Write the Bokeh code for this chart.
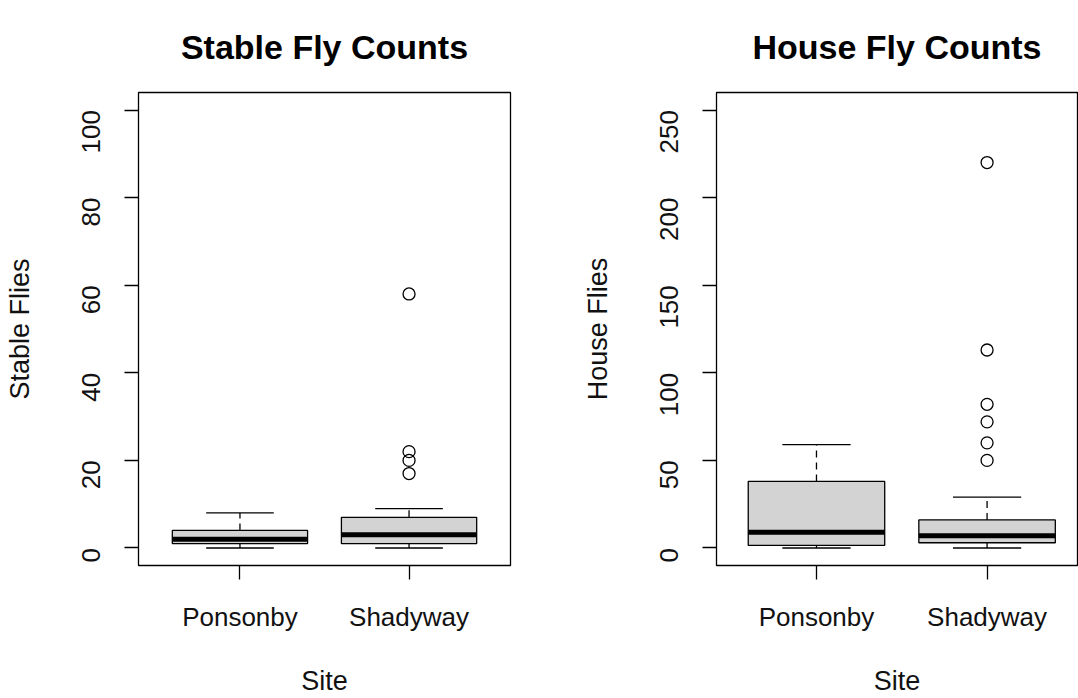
import math
from bokeh.plotting import figure
from bokeh.layouts import row
from bokeh.models import FixedTicker, ColumnDataSource
from bokeh.embed import file_html
from bokeh.resources import INLINE

# Sites sampled
sites = ["Ponsonby", "Shadyway"]

# Stable fly counts: five-number summaries per site
stable_low = [0, 0]
stable_q1 = [1, 1]
stable_median = [2, 3]
stable_q3 = [4, 7]
stable_high = [8, 9]
stable_outlier_site = ["Shadyway", "Shadyway", "Shadyway", "Shadyway"]
stable_outlier_value = [58, 22, 20, 17]
stable_ticks = [0, 20, 40, 60, 80, 100]

# House fly counts: five-number summaries per site
house_low = [0, 0]
house_q1 = [1.5, 3]
house_median = [9, 7]
house_q3 = [38, 16]
house_high = [59, 29]
house_outlier_site = ["Shadyway"] * 6
house_outlier_value = [220, 113, 82, 72, 60, 50]
house_ticks = [0, 50, 100, 150, 200, 250]

FONT = "Liberation Sans"
BOX_HALF = 0.4
CAP_HALF = 0.2


def boxplot(title, ylabel, low, q1, med, q3, high, out_site, out_val, ticks,
            y_range, x_range, width, border_right):
    xs = [sites.index(s) + 1 for s in sites]
    p = figure(width=width, height=698, output_backend="svg",
               toolbar_location=None, x_range=x_range, y_range=y_range,
               min_border_left=138, min_border_right=border_right,
               min_border_top=92, min_border_bottom=133,
               background_fill_color="white", border_fill_color="white")
    p.grid.visible = False
    p.outline_line_color = "black"
    p.outline_line_width = 1.3

    src = ColumnDataSource(dict(
        x=xs,
        left=[x - BOX_HALF for x in xs],
        right=[x + BOX_HALF for x in xs],
        cap_l=[x - CAP_HALF for x in xs],
        cap_r=[x + CAP_HALF for x in xs],
        low=low, q1=q1, med=med, q3=q3, high=high,
    ))

    # whiskers (dashed) and staples
    p.segment("x", "q3", "x", "high", source=src, line_color="black",
              line_width=1.3, line_dash="7 5")
    p.segment("x", "low", "x", "q1", source=src, line_color="black",
              line_width=1.3, line_dash="7 5")
    p.segment("cap_l", "high", "cap_r", "high", source=src,
              line_color="black", line_width=1.3)
    p.segment("cap_l", "low", "cap_r", "low", source=src,
              line_color="black", line_width=1.3)

    # boxes and medians
    p.quad(left="left", right="right", bottom="q1", top="q3", source=src,
           fill_color="#D3D3D3", line_color="black", line_width=1.3)
    p.segment("left", "med", "right", "med", source=src, line_color="black",
              line_width=5, line_cap="butt")

    # outliers
    ox = [sites.index(s) + 1 for s in out_site]
    p.scatter(ox, out_val, marker="circle", size=12, fill_color=None,
              line_color="black", line_width=1.3)

    p.title.text = title
    p.title.align = "center"
    p.title.vertical_align = "top"
    p.title.text_font = FONT
    p.title.text_font_size = "34px"
    p.title.text_font_style = "bold"
    p.title.text_color = "black"
    p.title.standoff = 50

    xaxis = p.below[0]
    yaxis = p.left[0]
    for ax in (xaxis, yaxis):
        ax.axis_line_color = None
        ax.major_tick_line_color = "black"
        ax.major_tick_line_width = 1.3
        ax.major_tick_in = 0
        ax.major_tick_out = 14
        ax.minor_tick_line_color = None
        ax.major_label_text_font = FONT
        ax.major_label_text_font_size = "26px"
        ax.major_label_text_color = "#111111"
        ax.axis_label_text_font = FONT
        ax.axis_label_text_font_size = "27px"
        ax.axis_label_text_font_style = "normal"
        ax.axis_label_text_color = "#111111"

    xaxis.ticker = FixedTicker(ticks=xs)
    xaxis.major_label_overrides = {x: s for x, s in zip(xs, sites)}
    xaxis.axis_label = "Site"
    xaxis.major_label_standoff = 22
    xaxis.axis_label_standoff = 31

    yaxis.ticker = FixedTicker(ticks=ticks)
    yaxis.major_label_orientation = math.pi / 2
    yaxis.axis_label = ylabel
    yaxis.major_label_standoff = 33
    yaxis.axis_label_standoff = 36
    return p


p1 = boxplot("Stable Fly Counts", "Stable Flies", stable_low, stable_q1,
             stable_median, stable_q3, stable_high, stable_outlier_site,
             stable_outlier_value, stable_ticks, (-4, 104), (0.4, 2.6),
             578, 68)
p2 = boxplot("House Fly Counts", "House Flies", house_low, house_q1,
             house_median, house_q3, house_high, house_outlier_site,
             house_outlier_value, house_ticks, (-10, 260), (0.414, 2.53),
             500, 1)

layout = row(p1, p2)
open("out.html", "w").write(file_html(layout, INLINE))
